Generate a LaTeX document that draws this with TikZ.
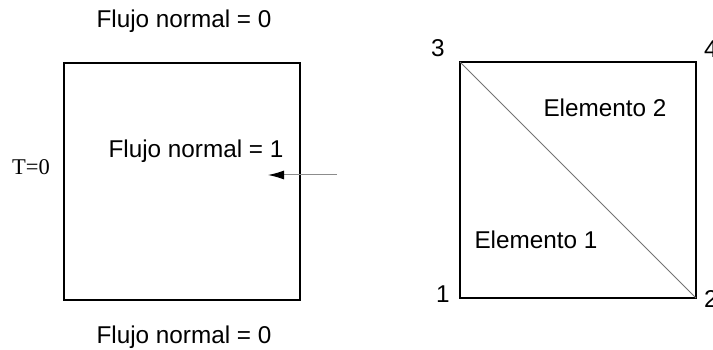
\documentclass[tikz,border=0pt]{standalone}
\usepackage{fontspec}
\setmainfont{Liberation Sans}
\newfontfamily\timesfont{Liberation Serif}
\usetikzlibrary{arrows.meta, positioning, calc}

\begin{document}
\begin{tikzpicture}[x=1pt, y=-1pt,
    lbl/.style={inner sep=0pt, anchor=base, font=\fontsize{24.3}{28}\selectfont},
    side/.style={draw=black, line width=1.4pt},
    diag/.style={draw=black!55, line width=0.8pt}
]
  \useasboundingbox (0,0) rectangle (713,350);

  % Left domain
  \coordinate (ll) at (64,300);
  \coordinate (ur) at (300,63);
  \draw[side] (ll) rectangle (ur);
  \node[lbl] (topflux) at (184,28) {Flujo normal = 0};
  \node[lbl] (botflux) at (184,343) {Flujo normal = 0};
  \node[lbl] (influx) at (196,158) {Flujo normal = 1};
  \node[lbl, font=\timesfont\fontsize{22.5}{26}\selectfont] (temp) at (31,175) {T=0};

  % Flux arrow
  \coordinate (arrS) at (337,175);
  \coordinate (arrE) at (268,175);
  \draw[black!45, line width=1pt, -{Latex[black, length=16pt, width=9pt]}] (arrS) -- (arrE);

  % Mesh
  \coordinate (n1) at (460,298);
  \coordinate (n2) at (696,298);
  \coordinate (n3) at (460,62);
  \coordinate (n4) at (696,62);
  \draw[side] (n1) -- (n2) -- (n4) -- (n3) -- cycle;
  \draw[diag] (n3) -- (n2);
  \node[lbl] (num1) at (443,302) {1};
  \node[lbl, anchor=base west] (num2) at (704,307) {2};
  \node[lbl] (num3) at (438,57) {3};
  \node[lbl, anchor=base west] (num4) at (704,58) {4};
  \node[lbl] (el2) at (605,117) {Elemento 2};
  \node[lbl] (el1) at (536,248) {Elemento 1};
\end{tikzpicture}
\end{document}
